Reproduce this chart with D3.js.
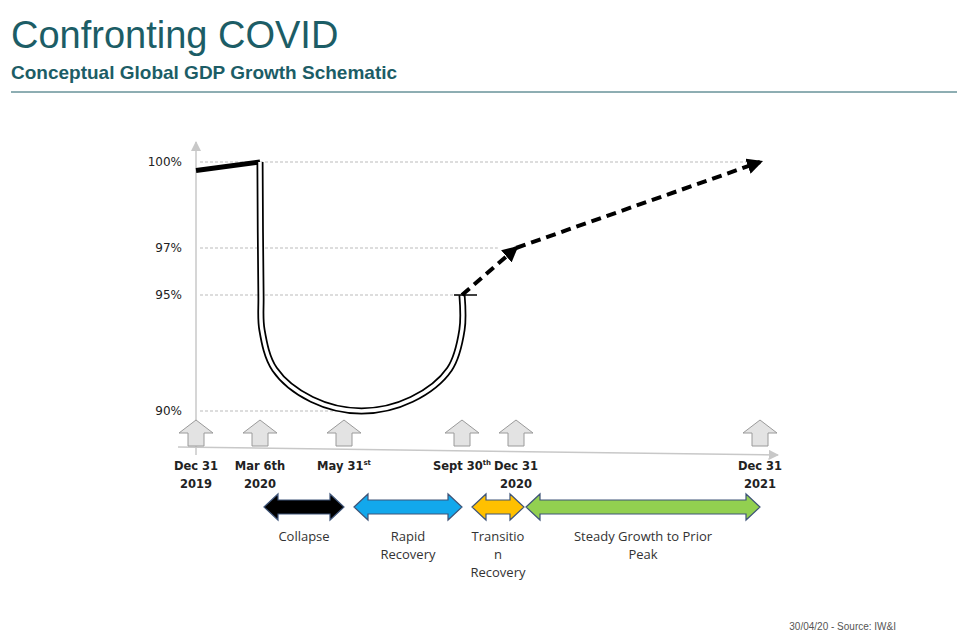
<!DOCTYPE html>
<html><head><meta charset="utf-8">
<script src="https://cdn.jsdelivr.net/npm/d3@7"></script>
<style>body{margin:0;background:#fff}svg{display:block}</style>
</head><body><div id="chart"></div>
<script>
// Schematic data
const tickDates = ["2019-12-31", "2020-03-06", "2020-05-31", "2020-09-30", "2020-12-31", "2021-12-31"];
const tickLabels = [["Dec 31", "2019"], ["Mar 6th", "2020"], ["May 31", "", "st"], ["Sept 30", "", "th"], ["Dec 31", "2020"], ["Dec 31", "2021"]];
const yTicks = [100, 97, 95, 90];
const preCovid = [["2019-12-31", 99.7], ["2020-03-06", 100]];
const uShape = [["2020-03-06", 100], ["2020-03-07", 95], ["2020-03-08", 93.5], ["2020-03-21", 91.8], ["2020-04-28", 90.5],
  ["2020-06-18", 90], ["2020-08-09", 90.5], ["2020-09-17", 91.8], ["2020-09-30", 93.5], ["2020-09-30", 95]];
const dash1 = [["2020-09-30", 95], ["2020-12-31", 97]];
const dash2 = [["2020-12-31", 97], ["2021-12-31", 100]];
const gridEnds = [["2021-12-31", 100], ["2020-11-30", 97], ["2020-10-05", 95], ["2020-06-10", 90]];
const phases = ["Collapse", "Rapid\nRecovery", "Transitio\nn\nRecovery", "Steady Growth to Prior\nPeak"];
const phaseSpans = [["2020-03-06", "2020-05-31"], ["2020-05-31", "2020-09-30"], ["2020-09-30", "2020-12-31"], ["2020-12-31", "2021-12-31"]];
const phaseColors = ["#000000", "#12a8ec", "#ffc000", "#92d050"];

const W = 969, H = 638;
const svg = d3.select("#chart").append("svg").attr("width", W).attr("height", H);
const pd = d3.timeParse("%Y-%m-%d");

// x and y are piecewise: the schematic is not to scale
const x = d3.scaleTime().domain(tickDates.map(pd)).range([196, 260, 344, 462, 516, 760]);
const y = d3.scaleLinear().domain([90, 95, 97, 100]).range([411, 295, 248, 162]);

// header
svg.append("text").attr("x", 11).attr("y", 48).attr("fill", "#1c5d66")
  .style("font", "38px 'Liberation Sans', Arial, sans-serif").text("Confronting COVID");
svg.append("text").attr("x", 11).attr("y", 79).attr("fill", "#1c5d66")
  .style("font", "bold 19px 'Liberation Sans', Arial, sans-serif").text("Conceptual Global GDP Growth Schematic");
svg.append("line").attr("x1", 11).attr("x2", 957).attr("y1", 92).attr("y2", 92).attr("stroke", "#1c5d66").attr("stroke-width", 1);
svg.append("text").attr("x", 896).attr("y", 630).attr("text-anchor", "end").attr("fill", "#555")
  .style("font", "10px 'Liberation Sans', Arial, sans-serif").text("30/04/20 - Source: IW&I");

const defs = svg.append("defs");
defs.append("marker").attr("id", "gray").attr("viewBox", "0 0 10 10").attr("refX", 9).attr("refY", 5)
  .attr("markerWidth", 7).attr("markerHeight", 7).attr("orient", "auto")
  .append("path").attr("d", "M0,0L10,5L0,10z").attr("fill", "#c8c8c8");
defs.append("marker").attr("id", "blk").attr("viewBox", "0 0 10 10").attr("refX", 8).attr("refY", 5)
  .attr("markerWidth", 4).attr("markerHeight", 4).attr("orient", "auto")
  .append("path").attr("d", "M0,0L10,5L0,10z").attr("fill", "#000");

// axes
svg.append("line").attr("x1", 196).attr("x2", 196).attr("y1", 455).attr("y2", 142)
  .attr("stroke", "#c8c8c8").attr("stroke-width", 1.5).attr("marker-end", "url(#gray)");
svg.append("line").attr("x1", 178).attr("x2", 778).attr("y1", 447).attr("y2", 455)
  .attr("stroke", "#c8c8c8").attr("stroke-width", 1.5).attr("marker-end", "url(#gray)");

// grid lines
svg.selectAll(".grid").data(gridEnds).join("line")
  .attr("x1", 200).attr("x2", d => x(pd(d[0]))).attr("y1", d => y(d[1])).attr("y2", d => y(d[1]))
  .attr("stroke", "#aaa").attr("stroke-width", 0.8).attr("stroke-dasharray", "3,2");

// y labels
svg.selectAll(".yl").data(yTicks).join("text")
  .attr("x", 182).attr("y", d => y(d) + 4).attr("text-anchor", "end")
  .style("font", "12px 'DejaVu Sans', sans-serif").attr("fill", "#222").text(d => d + "%");

const line = d3.line().x(d => x(pd(d[0]))).y(d => y(d[1]));
const uPath = d3.line().x(d => x(pd(d[0]))).y(d => y(d[1])).curve(d3.curveCatmullRom.alpha(0.5));

svg.append("path").attr("d", line(preCovid)).attr("stroke", "#000").attr("stroke-width", 5).attr("fill", "none");
svg.append("path").attr("d", uPath(uShape)).attr("stroke", "#000").attr("stroke-width", 7).attr("fill", "none");
svg.append("path").attr("d", uPath(uShape)).attr("stroke", "#fff").attr("stroke-width", 3.5).attr("fill", "none");
// cap at Sept 30
svg.append("line").attr("x1", x(pd("2020-09-30")) - 8).attr("x2", x(pd("2020-09-30")) + 15)
  .attr("y1", y(95)).attr("y2", y(95)).attr("stroke", "#000").attr("stroke-width", 1.5);

[dash1, dash2].forEach(d => {
  svg.append("path").attr("d", line(d)).attr("stroke", "#000").attr("stroke-width", 4)
    .attr("stroke-dasharray", "10,6").attr("fill", "none").attr("marker-end", "url(#blk)");
});

// block up-arrows
const upArrow = "M-8,0V-13H-17L0,-26L17,-13H8V0Z";
svg.selectAll(".ua").data(tickDates).join("path")
  .attr("transform", d => `translate(${x(pd(d))},446)`).attr("d", upArrow)
  .attr("fill", "#e3e3e3").attr("stroke", "#9a9a9a").attr("stroke-width", 1);

// date labels
const tl = svg.selectAll(".tl").data(tickLabels).join("text")
  .attr("x", (d, i) => x(pd(tickDates[i]))).attr("y", 470).attr("text-anchor", "middle")
  .style("font", "bold 11.5px 'DejaVu Sans', sans-serif").attr("fill", "#222");
tl.append("tspan").text(d => d[0]);
tl.filter(d => d[2]).append("tspan").attr("dy", -5).style("font-size", "7px").text(d => d[2]);
tl.append("tspan").attr("x", (d, i) => x(pd(tickDates[i]))).attr("y", 488).text(d => d[1]);

// phase double arrows
function dbl(x0, x1) {
  const h = 13, s = 7, a = 14;
  return `M${x0},0L${x0 + a},${-h}V${-s}H${x1 - a}V${-h}L${x1},0L${x1 - a},${h}V${s}H${x0 + a}V${h}Z`;
}
phaseSpans.forEach((p, i) => {
  const x0 = x(pd(p[0])) + (i ? 10 : 4), x1 = x(pd(p[1])) + (i === 2 ? 8 : 0);
  svg.append("path").attr("transform", "translate(0,507)").attr("d", dbl(x0, x1))
    .attr("fill", phaseColors[i]).attr("stroke", "#3e5478").attr("stroke-width", 1.2);
  const t = svg.append("text").attr("text-anchor", "middle").attr("fill", "#333")
    .style("font", "13px 'Open Sans', sans-serif");
  phases[i].split("\n").forEach((s, j) => t.append("tspan").attr("x", (x0 + x1) / 2).attr("y", 541 + j * 18).text(s));
});
</script></body></html>
